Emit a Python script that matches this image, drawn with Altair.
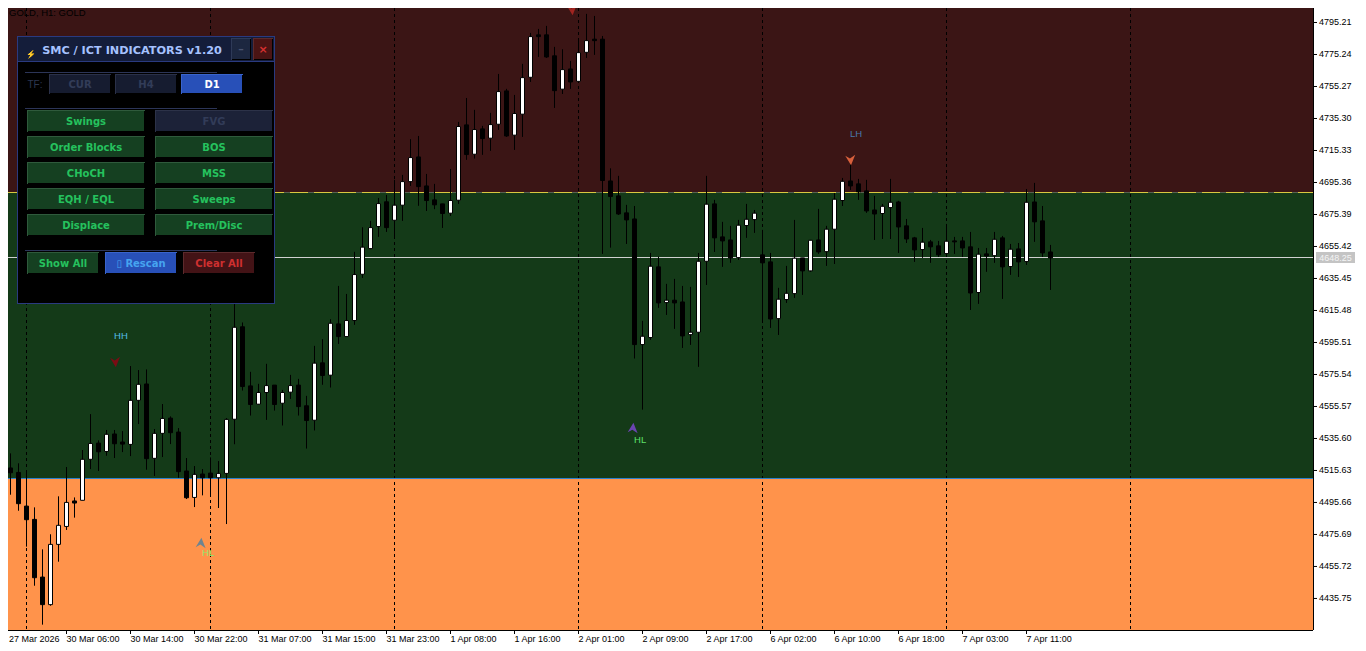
import json
import altair as alt
import pandas as pd

# ---------- data ----------
opens = [4486.4,4517.2,4514.4,4493.4,4485.1,4449.1,4431.9,4469.5,4480.7,4496.6,4497.0,4522.6,4532.7,4527.5,4538.4,4533.4,4531.9,4559.4,4569.6,4523.2,4538.8,4548.3,4539.6,4515.3,4498.8,4513.4,4514.0,4511.1,4513.8,
4547.6,4605.3,4568.4,4557.0,4564.3,4568.9,4557.6,4564.5,4568.9,4556.0,4547.0,4582.8,4575.1,4607.1,4599.2,4609.2,4638.1,4654.1,4667.9,4683.3,4671.8,4681.2,4695.9,4711.3,4693.2,4684.5,4682.0,4676.2,4684.3,4731.3,4713.0,4728.8,4723.0,4731.7,4752.5,4724.9,4738.0,4761.0,4787.5,4787.5,4774.4,4753.6,4766.2,4758.5,4776.6,4784.8,4784.8,
4696.3,4687.0,4676.4,4672.6,4594.2,4598.6,4642.7,4620.4,4621.9,4620.8,4600.4,4601.9,4646.2,4682.0,4661.4,4659.5,4648.5,4668.5,4672.2,4650.2,4645.8,4610.4,4622.3,4626.0,4648.3,4640.2,4659.5,4652.2,4666.2,4684.1,
4696.3,4694.5,4690.1,4678.2,4676.0,4679.7,4683.2,4668.3,4660.8,4653.5,4658.3,4655.8,4651.0,4658.9,4658.9,4655.2,4626.7,4650.8,4649.7,4660.8,4642.9,4653.9,4646.0,4683.2,4671.4,4652.0]
highs = [4518.0,4526.3,4520.1,4515.9,4492.6,4466.4,4475.8,4499.5,4517.8,4498.8,4528.4,4550.8,4534.4,4540.9,4540.9,4540.2,4580.8,4578.3,4578.7,4541.5,4557.1,4549.4,4542.1,4523.4,4518.4,4516.5,4523.8,4521.5,4548.3,
4622.1,4608.0,4577.2,4569.7,4582.2,4568.9,4565.9,4575.3,4572.8,4562.2,4593.4,4597.6,4610.0,4630.8,4625.8,4652.1,4667.4,4671.4,4685.7,4687.6,4697.0,4700.1,4722.4,4724.4,4700.7,4694.5,4682.0,4703.8,4733.2,4748.1,4740.7,4730.7,4738.8,4763.1,4753.8,4750.0,4769.4,4788.7,4791.2,4793.1,4780.0,4778.5,4771.2,4784.3,4800.6,4799.3,4786.8,
4704.2,4699.5,4681.4,4680.7,4609.0,4651.4,4649.1,4632.1,4635.2,4630.8,4630.2,4651.4,4699.5,4684.5,4670.8,4668.3,4672.0,4682.0,4678.2,4665.8,4651.4,4629.6,4643.3,4672.0,4648.3,4659.5,4678.9,4668.3,4688.8,4698.2,
4707.4,4697.6,4697.0,4687.0,4682.0,4697.6,4683.9,4672.6,4661.4,4667.0,4659.5,4658.9,4669.5,4661.4,4661.4,4664.5,4654.5,4654.5,4664.5,4662.0,4657.0,4657.6,4691.3,4695.1,4680.7,4656.4]
lows = [4484.7,4500.5,4490.5,4468.1,4443.7,4419.4,4431.2,4458.7,4478.5,4486.2,4497.0,4516.5,4515.3,4524.8,4523.4,4527.1,4524.6,4544.6,4516.1,4512.2,4524.0,4532.1,4511.1,4497.8,4492.8,4500.1,4499.3,4492.2,4482.2,
4532.0,4565.5,4549.9,4556.6,4547.2,4553.0,4543.7,4560.3,4549.9,4529.3,4540.6,4569.1,4567.4,4594.6,4599.2,4606.5,4635.8,4653.7,4661.4,4664.5,4660.4,4671.4,4693.2,4680.8,4677.6,4678.7,4667.0,4674.5,4682.0,4709.5,4710.3,4712.6,4715.1,4728.2,4723.8,4715.7,4723.8,4758.1,4773.7,4773.1,4741.9,4750.6,4753.8,4758.1,4773.1,4775.0,4650.8,
4654.7,4675.1,4657.0,4585.5,4553.6,4597.1,4617.1,4612.7,4604.0,4592.1,4594.0,4580.3,4631.4,4652.0,4642.7,4645.2,4647.0,4660.8,4663.9,4607.7,4604.6,4600.2,4620.2,4623.3,4625.2,4639.6,4650.8,4643.3,4644.5,4680.7,
4690.7,4684.5,4676.4,4659.5,4660.1,4660.1,4651.4,4657.6,4645.8,4648.3,4645.2,4648.9,4648.9,4650.8,4648.9,4615.8,4619.6,4639.6,4645.2,4622.7,4637.7,4636.4,4643.9,4658.3,4648.9,4628.3]
closes = [4516.9,4514.2,4494.9,4484.9,4448.7,4431.9,4469.5,4481.4,4495.7,4495.3,4522.6,4532.5,4527.3,4538.2,4532.3,4532.1,4559.4,4569.4,4523.0,4538.8,4548.1,4539.2,4514.9,4498.6,4513.2,4511.1,4511.1,4513.8,4547.5,
4605.0,4568.0,4556.8,4564.3,4568.6,4556.8,4564.3,4568.6,4555.5,4546.8,4582.6,4574.9,4607.5,4599.2,4609.2,4637.9,4655.0,4667.2,4682.2,4667.2,4681.2,4695.9,4710.9,4692.8,4684.1,4681.4,4676.0,4684.1,4730.3,4712.8,4728.4,4722.8,4731.5,4752.1,4724.4,4738.4,4760.8,4786.4,4786.4,4773.7,4752.7,4765.8,4758.1,4776.4,4783.9,4783.9,4696.6,
4686.6,4675.7,4672.0,4594.2,4599.4,4643.1,4620.2,4621.9,4620.2,4599.6,4601.9,4646.2,4681.8,4660.8,4658.9,4648.3,4668.7,4672.4,4676.2,4645.2,4610.2,4622.5,4626.2,4648.1,4640.2,4659.3,4652.0,4666.2,4684.9,4696.1,
4693.2,4689.5,4677.6,4675.7,4680.5,4683.0,4667.6,4660.1,4653.3,4658.1,4655.2,4650.2,4658.7,4658.3,4654.5,4626.4,4650.6,4649.5,4659.9,4642.7,4653.7,4645.8,4683.0,4670.8,4651.4,4648.3]
candle_index = list(range(len(opens)))

price_ticks = [4795.21,4775.24,4755.27,4735.30,4715.33,4695.36,4675.39,4655.42,4635.45,4615.48,
               4595.51,4575.54,4555.57,4535.60,4515.63,4495.66,4475.69,4455.72,4435.75]
time_ticks = [8,16,24,32,40,48,56,64,72,80,88,96,104,112,120,128]
time_labels = ["30 Mar 06:00","30 Mar 14:00","30 Mar 22:00","31 Mar 07:00","31 Mar 15:00",
               "31 Mar 23:00","1 Apr 08:00","1 Apr 16:00","2 Apr 01:00","2 Apr 09:00","2 Apr 17:00",
               "6 Apr 02:00","6 Apr 10:00","6 Apr 18:00","7 Apr 03:00","7 Apr 11:00"]
first_time_label = "27 Mar 2026"
separators = [3,26,49,72,95,118,141]
premium_level = 4689.11
discount_level = 4510.62
last_price_level = 4648.54
last_price_text = "4648.25"

ARROW_DOWN = "M-1,-0.8 L-0.1,-0.3 L0.9,-1 L0.1,1 Z"
ARROW_UP = "M-1,0.8 L-0.1,0.3 L0.9,1 L0.1,-1 Z"
swing_i = [14.1,71.2,106.0,78.8,24.8]
swing_p = [4583.3,4803.0,4709.4,4542.1,4470.4]
swing_dir = [ARROW_DOWN,ARROW_DOWN,ARROW_DOWN,ARROW_UP,ARROW_UP]
swing_col = ["#7a0c14","#a02420","#d8603c","#6a44b0","#6f8490"]
tag_i = [14.8,25.7,79.7,106.7]
tag_p = [4599.6,4464.1,4534.6,4725.6]
tag_text = ["HH","HL","HL","LH"]
tag_col = ["#55bde8","#8fe870","#5fe06a","#4a78ac"]

# ---------- layout ----------
PX0, PY0 = 8, 8          # page offset of the picture
W, H = 1305, 622
px_per = 0.6241
y_lo = 4809.25 - px_per * 630
y_hi = 4809.25 - px_per * 8
x_lo = 5.5 / 8
x_hi = (W + 5.5) / 8
xs = alt.Scale(domain=[x_lo, x_hi], nice=False, zero=False, padding=0)
ys = alt.Scale(domain=[y_lo, y_hi], nice=False, zero=False, padding=0)

df = pd.DataFrame({"i": candle_index, "open": opens, "high": highs, "low": lows, "close": closes})
one = pd.DataFrame({"v": [0]})

X = alt.X("i:Q", scale=xs)
zones = pd.DataFrame({"top": [y_hi, premium_level, discount_level],
                      "bot": [premium_level, discount_level, y_lo],
                      "fill": ["#3b1515", "#143a18", "#ff934b"]})
zone_layer = alt.Chart(zones).mark_rect().encode(
    x=alt.value(0), x2=alt.value(W),
    y=alt.Y("top:Q", scale=ys), y2="bot:Q",
    color=alt.Color("fill:N", scale=None))

sep_layer = alt.Chart(pd.DataFrame({"i": separators})).mark_rule(
    color="#000000", strokeWidth=1, strokeDash=[3, 3]).encode(x=X)

def level(price, color, **kw):
    return alt.Chart(pd.DataFrame({"p": [price]})).mark_rule(color=color, strokeWidth=1, **kw).encode(
        x=alt.value(0), x2=alt.value(W), y=alt.Y("p:Q", scale=ys))

lv_yellow = level(premium_level, "#d8c840", strokeDash=[18, 6], strokeDashOffset=6)
lv_blue = level(discount_level, "#2a80d0")
lv_white = level(last_price_level, "#d0d0d0")

wicks = alt.Chart(df).mark_rule(color="#000000", strokeWidth=1).encode(
    x=alt.X("i:Q", scale=xs, axis=alt.Axis(
        values=time_ticks, tickCount=40, title=None, orient="bottom", domain=False, grid=False,
        tickColor="#000000", tickSize=4, tickRound=False, translate=0,
        labelExpr=json.dumps(time_labels) + "[indexof(" + json.dumps(time_ticks) + ", datum.value)]",
        labelAlign="left", labelBaseline="middle", labelPadding=5, labelFlush=False, labelOverlap=False,
        labelBound=False, labelFont="Liberation Sans", labelFontSize=9, labelColor="#000000")),
    y=alt.Y("low:Q", scale=ys, axis=alt.Axis(
        values=price_ticks, tickCount=40, title=None, orient="right", domain=False, grid=False,
        tickColor="#000000", tickSize=4, tickRound=False, translate=0, format=".2f",
        labelPadding=2, labelFlush=False, labelOverlap=False, labelBound=False,
        labelFont="Liberation Sans", labelFontSize=9, labelColor="#000000")),
    y2="high:Q")

bodies = alt.Chart(df).mark_bar(size=4, stroke="#000000", strokeWidth=1).encode(
    x=X, y=alt.Y("open:Q", scale=ys), y2="close:Q",
    color=alt.condition("datum.close >= datum.open", alt.value("#ffffff"), alt.value("#000000")))

swings = alt.Chart(pd.DataFrame({"i": swing_i, "p": swing_p, "s": swing_dir, "c": swing_col})).mark_point(
    filled=True, size=110, opacity=1).encode(
    x=X, y=alt.Y("p:Q", scale=ys),
    shape=alt.Shape("s:N", scale=None), color=alt.Color("c:N", scale=None))

tags = alt.Chart(pd.DataFrame({"i": tag_i, "p": tag_p, "t": tag_text, "c": tag_col})).mark_text(
    font="Liberation Sans", fontSize=9.5, baseline="middle").encode(
    x=X, y=alt.Y("p:Q", scale=ys), text="t:N", color=alt.Color("c:N", scale=None))

# ---------- control panel ----------
rects, bold_text, thin_text = [], [], []
def box(x0, y0, x1, y1, fill):
    rects.append(dict(x=x0 - PX0, x2=x1 - PX0, y=y0 - PY0, y2=y1 - PY0, fill=fill))
def txt(store, x, y, s, col, size, align="center"):
    store.append(dict(x=x - PX0, y=y - PY0, t=s, c=col, z=size, a=align))
def button(x0, y0, x1, y1, label, fill, light, fg, size=10):
    box(x0, y0, x1, y1, light)
    box(x0 + 1, y0 + 1, x1, y1, "#000000")
    box(x0 + 1, y0 + 1, x1 - 1, y1 - 1, fill)
    txt(bold_text, (x0 + x1) / 2, (y0 + y1) / 2 + 1, label, fg, size)

BLUE, BLUE_L = "#2850b8", "#3a64cc"
GREEN, GREEN_L, GREEN_T = "#154021", "#2f5a3c", "#25c25e"
RED, RED_L, RED_T = "#431316", "#5c2a2c", "#cf3030"
SLATE, SLATE_L, SLATE_T = "#161c30", "#2a3048", "#323c58"

box(17, 36, 275, 304, "#2a3a80")
box(18, 37, 274, 303, "#000000")
box(18, 37, 274, 61, "#141d3a")
box(18, 61, 274, 62, "#2a3a80")
txt(bold_text, 132, 51, "SMC / ICT INDICATORS v1.20", "#a6c2ff", 11.25)
txt(thin_text, 31, 55, "⚡", "#6c9cf0", 8)
button(231, 38, 251, 60, "–", "#1c2740", "#2e3a58", "#4a5470", 11)
button(253, 38, 273, 60, "×", "#4a1414", "#5c2a2c", "#d83030", 11)
for yy in (72, 108, 250):
    box(25, yy, 217, yy + 1, "#2c3558")
txt(thin_text, 35, 85, "TF:", "#2c3650", 10)
for x0, x1, lab, act in ((49, 111, "CUR", False), (115, 177, "H4", False), (181, 243, "D1", True)):
    button(x0, 74, x1, 94, lab, BLUE if act else SLATE, BLUE_L if act else SLATE_L,
           "#ffffff" if act else SLATE_T)
left_labels = ["Swings", "Order Blocks", "CHoCH", "EQH / EQL", "Displace"]
right_labels = ["FVG", "BOS", "MSS", "Sweeps", "Prem/Disc"]
for r, (a, b) in enumerate(zip(left_labels, right_labels)):
    top = 110 + 26 * r
    button(27, top, 145, top + 22, a, GREEN, GREEN_L, GREEN_T)
    if b == "FVG":
        button(155, top, 273, top + 22, b, "#1c2238", "#2c3248", SLATE_T)
    else:
        button(155, top, 273, top + 22, b, GREEN, GREEN_L, GREEN_T)
button(27, 252, 99, 274, "Show All", GREEN, GREEN_L, GREEN_T)
button(105, 252, 177, 274, "▯ Rescan", BLUE, BLUE_L, "#46a4f0")
button(183, 252, 255, 274, "Clear All", RED, RED_L, RED_T)

box(1316, 252, 1355, 263, "#c4c4c4")
txt(thin_text, 1335.5, 257.5, last_price_text, "#f4f4f4", 9)
txt(thin_text, 9, 13, "GOLD, H1:  GOLD", "#000000", 9.5, "left")
txt(thin_text, 9, 639, first_time_label, "#000000", 9, "left")

PIXX = alt.X("x:Q", scale=None, axis=None)
PIXY = alt.Y("y:Q", scale=None, axis=None)
panel = alt.Chart(pd.DataFrame(rects)).mark_rect(clip=False).encode(
    x=PIXX, x2="x2:Q", y=PIXY, y2="y2:Q", color=alt.Color("fill:N", scale=None))

def text_layer(rows, font, weight):
    d = pd.DataFrame(rows)
    out = []
    for al in d["a"].unique():
        out.append(alt.Chart(d[d["a"] == al]).mark_text(
            font=font, fontWeight=weight, baseline="middle", align=al, clip=False).encode(
            x=PIXX, y=PIXY, text="t:N",
            color=alt.Color("c:N", scale=None),
            size=alt.Size("z:Q", scale=None)))
    return out

frame_r = alt.Chart(one).mark_rule(color="#000000", strokeWidth=1).encode(
    x=alt.value(W + 0.5), y=alt.value(0), y2=alt.value(H))
frame_b = alt.Chart(one).mark_rule(color="#000000", strokeWidth=1).encode(
    x=alt.value(0), x2=alt.value(W), y=alt.value(H + 0.5))

layers = [wicks, zone_layer, sep_layer, lv_yellow, lv_blue, lv_white, wicks, bodies, swings, tags, panel]
layers += text_layer(bold_text, "DejaVu Sans", "bold")
layers += text_layer(thin_text, "Liberation Sans", "normal")
layers += [frame_r, frame_b]

chart = alt.layer(*layers).properties(
    width=W, height=H,
    autosize=alt.AutoSizeParams(type="none"),
    padding={"left": 0, "top": 0, "right": 45, "bottom": 17},
    background="#ffffff",
).configure_view(stroke=None)

chart.save("out.html", embed_options={"renderer": "svg", "actions": False})
